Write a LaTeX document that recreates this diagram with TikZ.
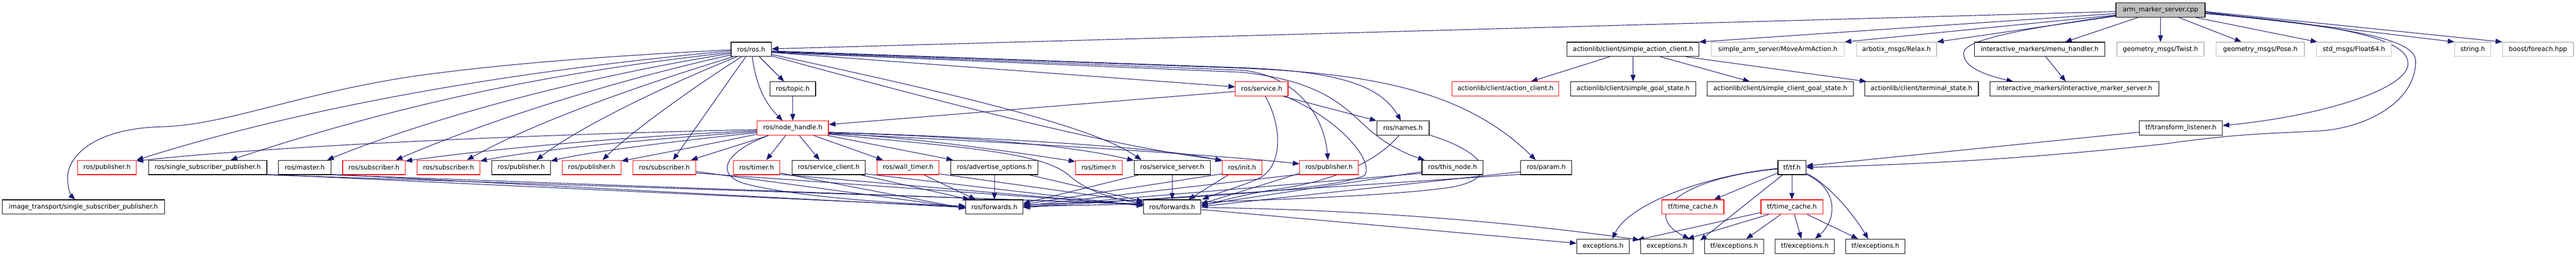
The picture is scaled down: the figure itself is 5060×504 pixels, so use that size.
\documentclass[tikz,border=0pt]{standalone}
\usepackage{fontspec}
\setmainfont{DejaVu Sans}
\usetikzlibrary{arrows.meta,calc}
\definecolor{edgec}{HTML}{191970}
\definecolor{grayb}{HTML}{BFBFBF}
\definecolor{redb}{HTML}{FF0000}
\pgfdeclarelayer{bg}
\pgfsetlayers{bg,main}
\tikzset{
  bx/.style={draw=black, fill=white, line width=1.2pt, minimum height=28pt, inner sep=0pt, font=\fontsize{12.6}{15}\selectfont, anchor=center},
  rb/.style={bx, draw=redb},
  gb/.style={bx, draw=grayb},
  e/.style={draw=edgec, line width=1.1pt, -{Triangle[length=13pt,width=10pt]}},
}
\begin{document}
\begin{tikzpicture}[x=1pt,y=-1pt]
\useasboundingbox (0,0) rectangle (5060,504);
% row 0
\node[bx, fill=grayb, minimum width=175pt] (cpp) at (4243.8,19.7) {arm\_marker\_server.cpp};
% row 1
\node[bx, minimum width=79.3pt] (rosh) at (1475.7,97) {ros/ros.h};
\node[bx, minimum width=258.7pt] (sac) at (3207.7,97) {actionlib/client/simple\_action\_client.h};
\node[gb, minimum width=261.4pt] (mav) at (3492,97) {simple\_arm\_server/MoveArmAction.h};
\node[gb, minimum width=157.7pt] (relax) at (3725.2,97) {arbotix\_msgs/Relax.h};
\node[bx, minimum width=256.4pt] (menu) at (4006.5,97) {interactive\_markers/menu\_handler.h};
\node[gb, minimum width=171pt] (twist) at (4243.8,97) {geometry\_msgs/Twist.h};
\node[gb, minimum width=173.7pt] (pose) at (4439.8,97) {geometry\_msgs/Pose.h};
\node[gb, minimum width=147pt] (f64) at (4623.8,97) {std\_msgs/Float64.h};
\node[gb, minimum width=71pt] (strh) at (4857.2,97) {string.h};
\node[gb, minimum width=139.3pt] (boost) at (4985.3,97) {boost/foreach.hpp};
% row 2
\node[bx, minimum width=89.7pt] (topic) at (1557.2,174.7) {ros/topic.h};
\node[rb, minimum width=103.3pt] (service) at (2478.3,174.7) {ros/service.h};
\node[rb, minimum width=209.7pt] (ac) at (2957.2,174.7) {actionlib/client/action\_client.h};
\node[bx, minimum width=245.7pt] (sgs) at (3207.8,174.7) {actionlib/client/simple\_goal\_state.h};
\node[bx, minimum width=287.4pt] (scgs) at (3497,174.7) {actionlib/client/simple\_client\_goal\_state.h};
\node[bx, minimum width=223.3pt] (ts) at (3774.3,174.7) {actionlib/client/terminal\_state.h};
\node[bx, minimum width=331.3pt] (ims) at (4074.7,174.7) {interactive\_markers/interactive\_marker\_server.h};
% row 3
\node[rb, minimum width=140.3pt] (nh) at (1557.2,251.7) {ros/node\_handle.h};
\node[bx, minimum width=103pt] (names) at (2755.8,251.7) {ros/names.h};
\node[bx, minimum width=163pt] (tl) at (4283.8,251.7) {tf/transform\_listener.h};
% row 4
\node[rb, minimum width=115pt] (pub1) at (210.2,329) {ros/publisher.h};
\node[bx, minimum width=232.6pt] (ssp) at (408,329) {ros/single\_subscriber\_publisher.h};
\node[bx, minimum width=103pt] (master) at (598.5,329) {ros/master.h};
\node[rb, minimum width=123pt] (sub1) at (734.5,329) {ros/subscriber.h};
\node[rb, minimum width=123.4pt] (sub2) at (881,329) {ros/subscriber.h};
\node[bx, minimum width=115pt] (pub2) at (1023.8,329) {ros/publisher.h};
\node[rb, minimum width=115.3pt] (pub3) at (1162.3,329) {ros/publisher.h};
\node[rb, minimum width=123.4pt] (sub3) at (1305,329) {ros/subscriber.h};
\node[rb, minimum width=91.3pt] (timer1) at (1486.3,329) {ros/timer.h};
\node[bx, minimum width=144.3pt] (sc) at (1627.8,329) {ros/service\_client.h};
\node[rb, minimum width=121.7pt] (wt) at (1783.8,329) {ros/wall\_timer.h};
\node[bx, minimum width=171pt] (ao) at (1953.2,329) {ros/advertise\_options.h};
\node[rb, minimum width=91.6pt] (timer2) at (2158.5,329) {ros/timer.h};
\node[bx, minimum width=149.6pt] (ss) at (2302.5,329) {ros/service\_server.h};
\node[rb, minimum width=77.7pt] (init) at (2439.8,329) {ros/init.h};
\node[rb, minimum width=115pt] (pub4) at (2610.5,329) {ros/publisher.h};
\node[bx, minimum width=120.3pt] (tn) at (2853.2,329) {ros/this\_node.h};
\node[bx, minimum width=100.3pt] (param) at (3037.2,329) {ros/param.h};
\node[bx, minimum width=55pt] (tf) at (3519.8,329) {tf/tf.h};
% row 5
\node[bx, minimum width=319pt] (itssp) at (163.8,406.7) {image\_transport/single\_subscriber\_publisher.h};
\node[bx, minimum width=112.3pt] (fw1) at (1953.2,406.7) {ros/forwards.h};
\node[bx, minimum width=112.4pt] (fw2) at (2302.5,406.7) {ros/forwards.h};
\node[rb, minimum width=121.7pt] (tc1) at (3325.2,406.7) {tf/time\_cache.h};
\node[rb, minimum width=121.7pt] (tc2) at (3519.8,406.7) {tf/time\_cache.h};
% row 6
\node[bx, minimum width=103.4pt] (ex1) at (3149,484) {exceptions.h};
\node[bx, minimum width=103pt] (ex2) at (3274.5,484) {exceptions.h};
\node[bx, minimum width=116.4pt] (tfex1) at (3406.5,484) {tf/exceptions.h};
\node[bx, minimum width=116.3pt] (tfex2) at (3545.2,484) {tf/exceptions.h};
\node[bx, minimum width=116.7pt] (tfex3) at (3683.7,484) {tf/exceptions.h};

\begin{pgfonlayer}{bg}
% cpp
\draw[e] ($(cpp.west)+(0,3)$) -- ($(rosh.east)+(0,-1)$);
\draw[e] ($(cpp.west)+(0,7)$) -- (sac.north east);
\draw[e] ($(cpp.west)+(0,10)$) -- (mav.north east);
\draw[e] ($(cpp.west)+(0,12)$) -- (relax.north east);
\draw[e] ($(cpp.south)+(-44,0)$) -- ($(menu.north)+(50,0)$);
\draw[e] ($(cpp.west)+(0,11)$) .. controls (3950,60) and (3857,80) .. (3857,105) .. controls (3857,135) and (3910,150) .. ($(ims.north west)+(46,0)$);
\draw[e] (cpp.south) -- (twist.north);
\draw[e] ($(cpp.south)+(36,0)$) -- ($(pose.north)+(-37,0)$);
\draw[e] ($(cpp.south)+(69,0)$) -- ($(f64.north west)+(2,0)$);
\draw[e] ($(cpp.east)+(0,4)$) -- (strh.north west);
\draw[e] ($(cpp.east)+(0,3)$) -- (boost.north west);
\draw[e] ($(cpp.east)+(0,6)$) .. controls (4620,50) and (4730,80) .. (4730,125) .. controls (4730,175) and (4560,228) .. ($(tl.east)+(0,-5)$);
\draw[e] ($(cpp.east)+(0,7)$) .. controls (4640,55) and (4745,80) .. (4745,120) .. controls (4745,200) and (4650,250) .. (4560,257) .. controls (4450,263) and (4400,262) .. (4250,283) .. controls (4000,310) and (3800,322) .. (tf.east);
\draw[e] ($(tl.west)+(0,8)$) -- ($(tf.east)+(0,-3)$);
% sac, menu
\draw[e] ($(sac.south)+(-46,0)$) -- ($(ac.north)+(50,0)$);
\draw[e] (sac.south) -- (sgs.north);
\draw[e] ($(sac.south)+(54,0)$) -- ($(scgs.north)+(-60,0)$);
\draw[e] ($(sac.south)+(104,0)$) -- ($(ts.north west)+(4,0)$);
\draw[e] ($(menu.south)+(12,0)$) -- ($(ims.north)+(-17,0)$);
% ros.h left
\draw[e] ($(rosh.west)+(0,1)$) .. controls (1150,112) and (980,128) .. (840,146) .. controls (600,178) and (450,245) .. (320,249) .. controls (180,252) and (135,310) .. (133,345) .. controls (132,370) and (140,385) .. ($(itssp.north)+(-16,0)$);
\draw[e] ($(rosh.west)+(0,3)$) .. controls (1000,140) and (600,210) .. (pub1.north east);
\draw[e] ($(rosh.west)+(0,6)$) .. controls (1100,140) and (800,200) .. ($(ssp.north)+(45,0)$);
\draw[e] ($(rosh.west)+(0,8)$) .. controls (1150,150) and (850,230) .. ($(master.north east)+(-8,0)$);
\draw[e] ($(rosh.west)+(0,11)$) .. controls (1200,160) and (950,240) .. ($(sub1.north east)+(-19,0)$);
\draw[e] ($(rosh.south west)+(4,0)$) .. controls (1250,170) and (1050,240) .. ($(sub2.north east)+(-26,0)$);
\draw[e] ($(rosh.south west)+(12,0)$) .. controls (1350,150) and (1150,240) .. ($(pub2.north east)+(-28,0)$);
\draw[e] ($(rosh.south west)+(21,0)$) .. controls (1380,160) and (1250,250) .. ($(pub3.north east)+(-37,0)$);
\draw[e] ($(rosh.south)+(-11,0)$) -- ($(sub3.north)+(17,0)$);
\draw[e] ($(rosh.south)+(2,0)$) .. controls (1485,170) and (1505,205) .. ($(nh.north)+(-20,0)$);
\draw[e] ($(rosh.south)+(16,0)$) -- ($(topic.north)+(-17,0)$);
\draw[e] (topic.south) -- (nh.north);
% ros.h right
\draw[e] ($(rosh.east)+(0,6)$) -- ($(service.west)+(0,-4)$);
\draw[e] ($(rosh.east)+(0,10)$) .. controls (1900,190) and (2150,250) .. ($(ss.north west)+(15,0)$);
\draw[e] ($(rosh.east)+(0,13)$) .. controls (1900,215) and (2200,290) .. (init.north west);
\draw[e] ($(rosh.east)+(0,3)$) -- (2440,133) .. controls (2620,140) and (2710,165) .. ($(names.north)+(-4,0)$);
\draw[e] ($(rosh.east)+(0,4)$) -- (2440,134) .. controls (2700,145) and (2880,180) .. ($(param.north west)+(30,0)$);
\draw[e] ($(rosh.east)+(0,5)$) -- (2440,138) .. controls (2540,148) and (2600,220) .. ($(pub4.north)+(-2,0)$);
\draw[e] ($(rosh.east)+(0,6)$) -- (2440,142) .. controls (2600,160) and (2640,210) .. (2690,255) .. controls (2720,282) and (2760,302) .. ($(tn.north west)+(6,0)$);
% node_handle
\draw[e] ($(nh.west)+(0,3)$) .. controls (1000,265) and (500,290) .. ($(pub1.north east)+(0,2)$);
\draw[e] ($(nh.west)+(0,5)$) .. controls (1200,270) and (950,295) .. ($(sub1.north east)+(0,2)$);
\draw[e] ($(nh.west)+(0,7)$) .. controls (1250,275) and (1050,295) .. ($(sub2.north east)+(0,2)$);
\draw[e] ($(nh.west)+(0,9)$) .. controls (1300,280) and (1150,300) .. ($(pub2.north east)+(0,2)$);
\draw[e] ($(nh.west)+(0,12)$) .. controls (1400,282) and (1280,305) .. ($(pub3.north east)+(0,2)$);
\draw[e] ($(nh.south west)+(23,0)$) -- ($(sub3.north east)+(-10,0)$);
\draw[e] ($(nh.south)+(-14,0)$) -- ($(timer1.north)+(19,0)$);
\draw[e] ($(nh.south)+(13,0)$) -- ($(sc.north)+(-18,0)$);
\draw[e] ($(nh.south)+(41,0)$) -- ($(wt.north west)+(12,0)$);
\draw[e] ($(nh.south east)+(-2,0)$) -- ($(ao.north west)+(5,0)$);
\draw[e] ($(nh.east)+(0,10)$) .. controls (1800,270) and (2000,300) .. ($(timer2.north west)+(0,3)$);
\draw[e] ($(nh.east)+(0,9)$) .. controls (1900,268) and (2100,285) .. ($(ss.north west)+(0,1)$);
\draw[e] ($(nh.east)+(0,8)$) .. controls (2000,272) and (2300,292) .. ($(init.north west)+(0,2)$);
\draw[e] ($(nh.east)+(0,11)$) .. controls (2000,280) and (2400,305) .. ($(pub4.west)+(0,-7)$);
\draw[e] ($(nh.south west)+(23,0)$) .. controls (1430,295) and (1400,340) .. (1460,360) .. controls (1550,385) and (1750,400) .. ($(fw1.west)+(0,-2)$);
\draw[e] ($(nh.east)+(0,12)$) .. controls (1900,290) and (2050,300) .. (2100,345) .. controls (2140,380) and (2200,393) .. ($(fw2.west)+(0,-6)$);
% service
\draw[e] ($(service.west)+(0,5)$) -- ($(nh.east)+(0,-7)$);
\draw[e] ($(service.south east)+(-10,0)$) -- (names.north west);
\draw[e] ($(service.south)+(7,0)$) .. controls (2520,250) and (2520,330) .. (2470,352) .. controls (2440,365) and (2390,380) .. ($(fw2.north east)+(2,0)$);
\draw[e] ($(service.south east)+(-5,0)$) .. controls (2640,240) and (2700,320) .. (2680,345) .. controls (2600,380) and (2200,395) .. ($(fw1.east)+(0,-4)$);
% names
\draw[e] ($(names.south)+(-8,0)$) .. controls (2720,300) and (2650,350) .. (2520,370) .. controls (2450,380) and (2400,395) .. ($(fw2.east)+(0,-3)$);
\draw[e] ($(names.south east)+(0,-1)$) .. controls (2920,300) and (2950,350) .. (2850,368) .. controls (2700,390) and (2300,400) .. ($(fw1.east)+(0,-1)$);
% left group to forwards
\draw[e] ($(ssp.south east)+(0,-1)$) -- ($(fw1.west)+(0,0)$);
\draw[e] (ssp.south east) -- ($(fw2.west)+(0,-6)$);
\draw[e] ($(master.south east)+(0,-1)$) -- ($(fw1.west)+(0,1)$);
\draw[e] (master.south east) -- ($(fw2.west)+(0,-5)$);
\draw[e] ($(sub3.east)+(0,8)$) -- ($(fw1.west)+(0,2)$);
\draw[e] ($(sub3.east)+(0,11)$) -- ($(fw2.west)+(0,-4)$);
\draw[e] ($(timer1.east)+(0,11)$) -- ($(fw1.west)+(0,3)$);
\draw[e] ($(timer1.south east)+(0,-1)$) -- ($(fw2.west)+(0,-3)$);
\draw[e] ($(sc.south east)+(-10,0)$) -- ($(fw1.north west)+(8,0)$);
\draw[e] ($(sc.south east)+(0,-2)$) -- ($(fw2.west)+(0,-2)$);
\draw[e] ($(wt.south)+(31,0)$) -- ($(fw1.north west)+(20,0)$);
\draw[e] ($(wt.south east)+(0,-2)$) -- ($(fw2.west)+(0,-9)$);
\draw[e] (ao.south) -- (fw1.north);
\draw[e] ($(ao.south east)+(-18,0)$) -- ($(fw2.west)+(0,-11)$);
% right group to forwards
\draw[e] (ss.south) -- (fw2.north);
\draw[e] ($(ss.south west)+(10,0)$) -- ($(fw1.east)+(0,-7)$);
\draw[e] ($(init.south)+(-27,0)$) -- ($(fw2.north east)+(-25,0)$);
\draw[e] ($(init.south west)+(0,-2)$) -- ($(fw1.east)+(0,-5)$);
\draw[e] ($(pub4.south west)+(0,-1)$) -- ($(fw1.east)+(0,-2)$);
\draw[e] ($(pub4.south west)+(0,-3)$) -- ($(fw2.east)+(0,-6)$);
\draw[e] ($(tn.south west)+(0,-3)$) -- ($(fw1.east)+(0,0)$);
\draw[e] ($(tn.south west)+(0,-6)$) -- ($(fw2.east)+(0,-4)$);
\draw[e] ($(param.south west)+(0,-1)$) -- ($(fw1.east)+(0,1)$);
\draw[e] ($(param.south west)+(0,-6)$) -- ($(fw2.east)+(0,-1)$);
% forwards to exceptions
\draw[e] ($(fw2.east)+(0,1)$) .. controls (2700,412) and (3000,440) .. ($(ex2.north west)+(-2,2)$);
\draw[e] ($(fw2.east)+(0,5)$) -- ($(ex1.west)+(0,-6)$);
% tf
\draw[e] (tf.south) -- (tc2.north);
\draw[e] ($(tf.west)+(0,11)$) -- ($(tc1.north east)+(-20,0)$);
\draw[e] ($(tf.south east)+(0,-1)$) .. controls (3610,370) and (3610,430) .. ($(tfex2.north)+(20,0)$);
\draw[e] ($(tf.south east)+(0,-3)$) .. controls (3590,360) and (3640,420) .. ($(tfex3.north)+(-14,0)$);
\draw[e] ($(tf.west)+(0,2)$) .. controls (3350,345) and (3200,400) .. ($(ex1.north)+(18,0)$);
\draw[e] ($(tf.west)+(0,3)$) .. controls (3300,350) and (3220,420) .. ($(ex2.north east)+(-8,0)$);
\draw[e] ($(tf.south west)+(10,0)$) -- ($(tfex1.north west)+(-8,3)$);
\draw[e] ($(tc2.south)+(-22,0)$) -- ($(tfex1.north east)+(-35,0)$);
\draw[e] ($(tc2.south)+(5,0)$) -- ($(tfex2.north)+(-7,0)$);
\draw[e] ($(tc2.south)+(30,0)$) -- ($(tfex3.north)+(-34,0)$);
\draw[e] ($(tc2.west)+(0,11)$) -- ($(ex2.north west)+(-6,2)$);
\draw[e] ($(tc2.south west)+(16,0)$) -- ($(ex2.north east)+(-12,0)$);
\end{pgfonlayer}
\end{tikzpicture}
\end{document}
